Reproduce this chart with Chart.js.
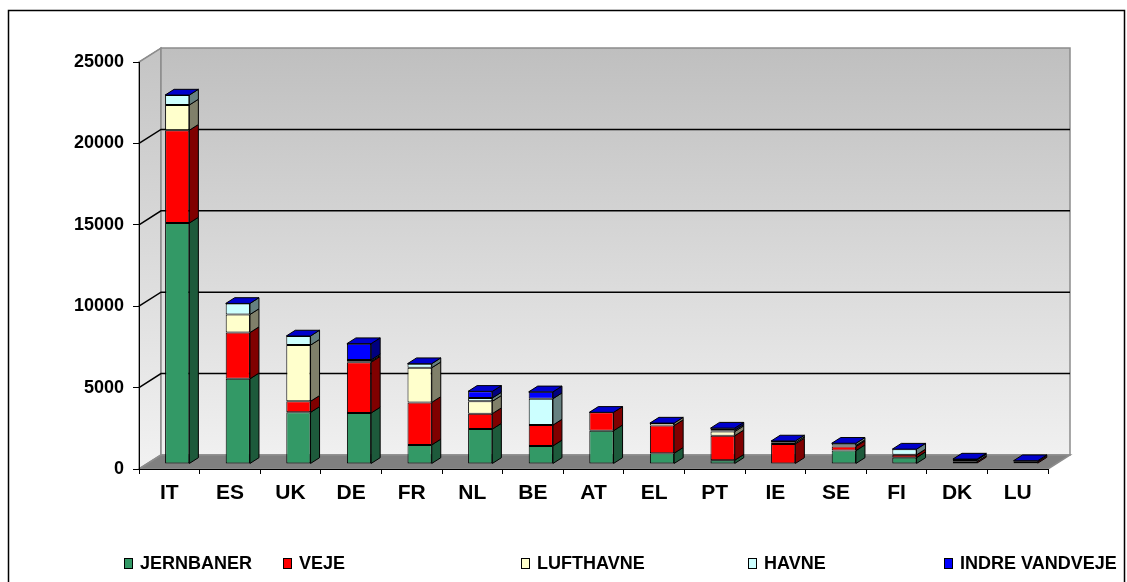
<!DOCTYPE html>
<html lang="da">
<head>
<meta charset="utf-8">
<title>Infrastruktur pr. land</title>
<script src="https://cdn.jsdelivr.net/npm/chart.js@4.4.1/dist/chart.umd.min.js"></script>
<style>
  html, body { margin: 0; padding: 0; background: #fff; }
  #chart { display: block; }
</style>
</head>
<body>
<canvas id="chart" width="1127" height="582"></canvas>
<script>
const countries = ['IT', 'ES', 'UK', 'DE', 'FR', 'NL', 'BE', 'AT', 'EL', 'PT', 'IE', 'SE', 'FI', 'DK', 'LU'];
const jernbaner = [14800, 5230, 3170, 3130, 1170, 2140, 1110, 2040, 660, 230, 0, 820, 390, 60, 50];
const veje = [5700, 2840, 680, 3120, 2610, 950, 1280, 1130, 1700, 1500, 1230, 250, 170, 90, 90];
const lufthavne = [1550, 1110, 3450, 60, 2130, 760, 0, 0, 150, 260, 80, 60, 0, 0, 0];
const havne = [610, 680, 560, 80, 250, 200, 1620, 0, 0, 80, 100, 140, 350, 100, 60];
const indreVandveje = [0, 0, 0, 1000, 0, 410, 420, 0, 0, 130, 0, 0, 0, 50, 0];
const seriesNames = ['JERNBANER', 'VEJE', 'LUFTHAVNE', 'HAVNE', 'INDRE VANDVEJE'];
const yTicks = [0, 5000, 10000, 15000, 20000, 25000];

const frontColors = ['#339966', '#FF0000', '#FFFFCC', '#CCFFFF', '#0000FF'];
const sideColors = ['#1d5a3b', '#800000', '#80806a', '#668080', '#000080'];
const topColor = '#0000CC';

// back wall sits this far right / up from the front plane
const DX = 22, DY = -14;
// where the bar body sits inside that depth
const BAR_OFF = 0.36, BAR_DEPTH = 0.41;
// legend slots (left edge of each colour box)
const legendX = [124, 283, 521, 748, 944];

const font = '"Liberation Sans", Arial, sans-serif';

// walls, floor, grid on the back wall, bar sides and tops, legend, frame
const box3d = {
    id: 'box3d',
    beforeDraw(chart) {
        const { ctx, chartArea: a } = chart;
        const y = chart.scales.y;
        ctx.save();

        // left side wall
        let g = ctx.createLinearGradient(0, a.top + DY, 0, a.bottom);
        g.addColorStop(0, '#c4c4c4');
        g.addColorStop(1, '#f2f2f2');
        ctx.beginPath();
        ctx.moveTo(a.left, a.bottom);
        ctx.lineTo(a.left, a.top);
        ctx.lineTo(a.left + DX, a.top + DY);
        ctx.lineTo(a.left + DX, a.bottom + DY);
        ctx.closePath();
        ctx.fillStyle = g;
        ctx.fill();
        ctx.strokeStyle = '#8c8c8c';
        ctx.lineWidth = 1.5;
        ctx.stroke();

        // back wall
        g = ctx.createLinearGradient(0, a.top + DY, 0, a.bottom + DY);
        g.addColorStop(0, '#bfbfbf');
        g.addColorStop(1, '#f0f0f0');
        ctx.fillStyle = g;
        ctx.fillRect(a.left + DX, a.top + DY, a.right - a.left, a.bottom - a.top);
        ctx.strokeRect(a.left + DX, a.top + DY, a.right - a.left, a.bottom - a.top);

        // floor
        ctx.beginPath();
        ctx.moveTo(a.left, a.bottom);
        ctx.lineTo(a.left + DX, a.bottom + DY);
        ctx.lineTo(a.right + DX, a.bottom + DY);
        ctx.lineTo(a.right, a.bottom);
        ctx.closePath();
        ctx.fillStyle = '#808080';
        ctx.fill();
        ctx.strokeStyle = '#8c8c8c';
        ctx.stroke();

        // grid lines: diagonal on side wall, flat on back wall
        yTicks.forEach((v, i) => {
            const fy = y.getPixelForValue(v);
            const inner = i > 0 && i < yTicks.length - 1;
            ctx.strokeStyle = inner ? '#000' : '#8c8c8c';
            ctx.lineWidth = inner ? 1.5 : 1;
            ctx.beginPath();
            ctx.moveTo(a.left, fy);
            ctx.lineTo(a.left + DX, fy + DY);
            if (inner) ctx.lineTo(a.right + DX, fy + DY);
            ctx.stroke();
        });
        ctx.restore();
    },
    beforeDatasetsDraw(chart) {
        chart.ctx.save();
        chart.ctx.translate(DX * BAR_OFF, DY * BAR_OFF);
    },
    afterDatasetsDraw(chart) {
        const ctx = chart.ctx;
        const dx = DX * BAR_DEPTH, dy = DY * BAR_DEPTH;
        ctx.lineWidth = 1;
        ctx.strokeStyle = '#000';
        const tops = [];

        chart.data.datasets.forEach((ds, di) => {
            chart.getDatasetMeta(di).data.forEach((bar, i) => {
                const p = bar.getProps(['x', 'y', 'base', 'width'], true);
                const top = Math.min(p.y, p.base), bot = Math.max(p.y, p.base);
                if (!tops[i] || top < tops[i].top) tops[i] = { top, x: p.x, w: p.width };
                if (bot - top < 0.5) return;
                const r = p.x + p.width / 2;
                ctx.beginPath();
                ctx.moveTo(r, top);
                ctx.lineTo(r + dx, top + dy);
                ctx.lineTo(r + dx, bot + dy);
                ctx.lineTo(r, bot);
                ctx.closePath();
                ctx.fillStyle = sideColors[di];
                ctx.fill();
                ctx.stroke();
            });
        });

        tops.forEach(t => {
            const l = t.x - t.w / 2, r = t.x + t.w / 2;
            ctx.beginPath();
            ctx.moveTo(l, t.top);
            ctx.lineTo(l + dx, t.top + dy);
            ctx.lineTo(r + dx, t.top + dy);
            ctx.lineTo(r, t.top);
            ctx.closePath();
            ctx.fillStyle = topColor;
            ctx.fill();
            ctx.stroke();
        });
        ctx.restore();
    },
    afterDraw(chart) {
        const ctx = chart.ctx;
        ctx.save();
        ctx.font = 'bold 18px ' + font;
        ctx.textBaseline = 'middle';
        ctx.lineWidth = 1;
        seriesNames.forEach((name, i) => {
            const x = legendX[i];
            ctx.fillStyle = frontColors[i];
            ctx.fillRect(x + 0.5, 558.5, 8, 10);
            ctx.strokeStyle = '#000';
            ctx.strokeRect(x + 0.5, 558.5, 8, 10);
            ctx.fillStyle = '#000';
            ctx.fillText(name, x + 16, 564);
        });

        // outer frame
        ctx.lineWidth = 1.5;
        ctx.strokeStyle = '#000';
        ctx.strokeRect(8.5, 10.5, 1116, 600);
        ctx.restore();
    }
};

const series = [jernbaner, veje, lufthavne, havne, indreVandveje];

new Chart(document.getElementById('chart'), {
    type: 'bar',
    data: {
        labels: countries,
        datasets: series.map((values, i) => ({
            label: seriesNames[i],
            data: values,
            backgroundColor: frontColors[i],
            borderColor: '#000',
            borderWidth: 1,
            borderSkipped: false,
            categoryPercentage: 1,
            barPercentage: 0.4
        }))
    },
    options: {
        responsive: false,
        animation: false,
        devicePixelRatio: 1,
        layout: { padding: { top: 62, right: 79, bottom: 0, left: 0 } },
        plugins: {
            legend: { display: false },
            tooltip: { enabled: false }
        },
        scales: {
            x: {
                stacked: true,
                grid: { drawOnChartArea: false, drawTicks: true, tickLength: 5, color: '#000', offset: true },
                border: { display: true, color: '#000', width: 1 },
                ticks: { color: '#000', font: { family: font, size: 21, weight: 'bold' }, padding: 7, maxRotation: 0 },
                afterFit: scale => { scale.height = 113; }
            },
            y: {
                stacked: true,
                min: 0,
                max: 25000,
                grid: { drawOnChartArea: false, drawTicks: true, tickLength: 6, color: '#000' },
                border: { display: true, color: '#000', width: 1 },
                ticks: {
                    stepSize: 5000,
                    color: '#000',
                    font: { family: font, size: 18, weight: 'bold' },
                    padding: 9,
                    callback: v => String(v)
                },
                afterFit: scale => { scale.width = 139; }
            }
        }
    },
    plugins: [box3d]
});
</script>
</body>
</html>
